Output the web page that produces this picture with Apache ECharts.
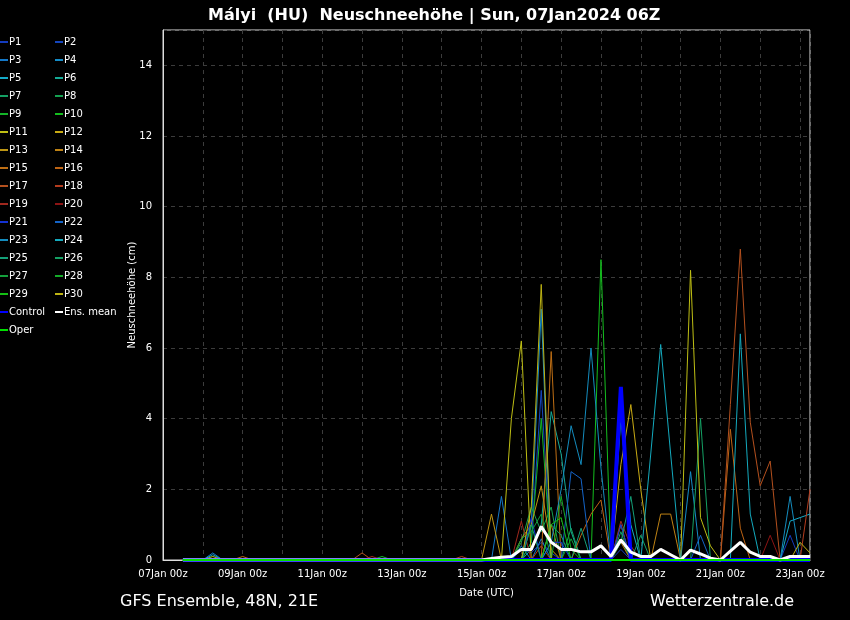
<!DOCTYPE html>
<html lang="de">
<head>
    <meta charset="UTF-8">
    <title>Mályi Neuschneehöhe</title>
    <script src="https://cdn.jsdelivr.net/npm/echarts@6/dist/echarts.min.js"></script>
    <style>
        html, body {margin: 0; padding: 0; background: #000;}
    </style>
</head>
<body>
<div id="chart" style="width: 850px;height:620px;"></div>
<script type="text/javascript">
    // forecast steps: 6h, starting 07Jan 12z (hour 12 after 07Jan 00z)
    var startHour = 12;
    var stepHours = 6;
    var tickLabels = ['07Jan 00z', '09Jan 00z', '11Jan 00z', '13Jan 00z', '15Jan 00z',
        '17Jan 00z', '19Jan 00z', '21Jan 00z', '23Jan 00z'];

    var P1 = [0,0,0,0,0,0,0,0,0,0,0,0,0,0,0,0,0,0,0,0,0,0,0,0,0,0,0,0,0,0,
        0,0,0,0,0.3,0.2,0.5,0.2,0,0,0,0,0,0,0.3,0,0,0,0,0,0,0,0,0,0,0,0,0,0,0,0,0.7,0,0];
    var P2 = [0,0,0,0,0,0,0,0,0,0,0,0,0,0,0,0,0,0,0,0,0,0,0,0,0,0,0,0,0,0,
        0,0,0,0,0,0.5,4.8,0,0,0,0,0,0,0,0,0,0,0,0,0,0,0,0,0,0,0,0,0,0,0,0,0,0,0];
    var P3 = [0,0,0,0.2,0,0,0,0,0,0,0,0,0,0,0,0,0,0,0,0,0,0,0,0,0,0,0,0,0,0,
        0,0,1.8,0,0.4,0,0.6,0,0,0,0,0,0,0,0,0,0,0,0,0,0,0,0,0,0,0,0,0,0,0,0,0,0,0];
    var P4 = [0,0,0,0,0,0,0,0,0,0,0,0,0,0,0,0,0,0,0,0,0,0,0,0,0,0,0,0,0,0,
        0,0,0,0,0,1.0,7.1,0,0,0,0,0,0,0,0,0,0,0,0,0,0,2.5,0,0,0,0,0,0,0,0,0,0,0,0];
    var P5 = [0,0,0,0.15,0,0,0,0,0,0,0,0,0,0,0,0,0,0,0,0,0,0,0,0,0,0,0,0,0,0,
        0,0,0,0,0,0,0,0,0,0,0,0,0,0,4.0,1.0,0,0,0,0,0,0,0,0,0,0,0,0,0,0,0,1.1,1.2,1.3];
    var P6 = [0,0,0,0,0,0,0,0,0,0,0,0,0,0,0,0,0,0,0,0,0,0,0,0,0,0,0,0,0,0,
        0,0,0,0,0,0.3,1.0,4.2,3.0,0.8,0,0,0,0,0,0,0,0,0,0,0,0,0,0,0,0,0,0,0,0,0,0,0,0];
    var P7 = [0,0,0,0,0,0,0,0,0,0,0,0,0,0,0,0,0,0,0,0,0,0,0,0,0,0,0,0,0,0,
        0,0,0,0,0,0,0,0,0,0.9,0,0,0,0,0,0,0,0,0,0,0,0,4.0,0,0,0,0,0,0,0,0,0,0,0];
    var P8 = [0,0,0,0,0,0,0,0,0,0,0,0,0,0,0,0,0,0,0,0,0,0,0,0,0,0,0,0,0,0,
        0,0,0,0,0.5,1.5,0.8,1.5,0,0,0,0,0,0,0.6,0,0,0,0,0,0,0,0,0,0,0,0,0,0,0,0,0,0,0];
    var P9 = [0,0,0,0,0,0,0,0,0,0,0,0,0,0,0,0,0,0,0,0,0.1,0,0,0,0,0,0,0,0,0,
        0,0,0,0,0,0.5,4.0,0,0,0,0,0,0,0,0,0,0,0,0,0,0,0,0,0,0,0,0,0,0,0,0,0,0,0];
    var P10 = [0,0,0,0,0,0,0,0,0,0,0,0,0,0,0,0,0,0,0,0,0,0,0,0,0,0,0,0,0,0,
        0,0,0,0,0,0,0,0,0,0,0,0,8.5,0,0,0,0,0,0,0,0,0,0,0,0,0,0,0,0,0,0,0,0,0];
    var P11 = [0,0,0,0.1,0,0,0,0,0,0,0,0,0,0,0,0,0,0,0,0,0,0,0,0,0,0,0,0,0,0,
        0,0,0,4.0,6.2,0,0,0,0,0,0,0,0,0,0,0,0,0,0,0,0,8.2,1.2,0.4,0,0,0,0,0,0,0,0,0,0];
    var P12 = [0,0,0,0,0,0,0,0,0,0,0,0,0,0,0,0,0,0,0,0,0,0,0,0,0,0,0,0,0,0,
        0,0,0,0,0,0,0,0,0,0,0,0,0,0,2.7,4.4,2.0,0,0,0,0,0,0,0,0,0,0,0,0,0,0,0,0,0];
    var P13 = [0,0,0,0,0,0,0,0,0,0,0,0,0,0,0,0,0,0,0,0,0,0,0,0,0,0,0,0,0,0,
        0,1.3,0,0,0.6,1.0,2.1,0.3,0,0,0,0,0,0,1.0,0,0,0,0,0,0,0,0,0,0,0,0,0,0,0,0,0,0,0];
    var P14 = [0,0,0,0,0,0,0,0,0,0,0,0,0,0,0,0,0,0,0,0,0,0,0,0,0,0,0,0,0,0,
        0,0,0,0,0,0,0,1.0,0,0,0,0,0,0,0.5,0,0,0,1.3,1.3,0,0,0,0,0,0,0,0,0,0,0,0,0,0];
    var P15 = [0,0,0,0,0,0,0,0,0,0,0,0,0,0,0,0,0,0,0,0,0,0,0,0,0,0,0,0,0,0,
        0,0,0,0,0,0,0,5.9,0,0,0,0,0,0,0,0,0,0,0,0,0,0,0,0,0,0,0,0,0,0,0,0,0,0];
    var P16 = [0,0,0,0,0,0,0.1,0,0,0,0,0,0,0,0,0,0,0,0,0,0,0,0,0,0,0,0,0,0,0,
        0,0,0,0,0,0,0,0,0,0,0.7,1.3,1.7,0,0,0,0,0,0,0,0,0,0,0,0,3.7,0.9,0,0,0,0,0,0,0];
    var P17 = [0,0,0,0,0,0,0,0,0,0,0,0,0,0,0,0,0,0,0.2,0,0,0,0,0,0,0,0,0,0,0,
        0,0,0,0,0,0,0,0,0,0,0,0,0,0,0,0,0,0,0,0,0,0,0,0,0,4.4,8.8,3.9,2.1,2.8,0,0,0,0];
    var P18 = [0,0,0,0,0,0,0,0,0,0,0,0,0,0,0,0,0,0,0,0,0,0,0,0,0,0,0,0,0.1,0,
        0,0,0,0,0,0,0.4,0,0,0,0,0,0,0,0,0,0,0,0,0,0,0,0,0,0,0,0,0,0,0,0,0,0,2.0];
    var P19 = [0,0,0,0,0,0,0,0,0,0,0,0,0,0,0,0,0,0,0,0.1,0,0,0,0,0,0,0,0,0,0,
        0,0,0,0,1.1,0,0,0,0,0,0,0,0,0,1.1,0.4,0,0,0,0,0,0,0,0,0,0,0,0,0,0,0,0,0,0];
    var P20 = [0,0,0,0,0,0,0,0,0,0,0,0,0,0,0,0,0,0,0,0,0,0,0,0,0,0,0,0,0,0,
        0,0,0,0,0,0,0,0,0,0,0,0,0,0,0,0,0,0,0,0,0,0,0,0,0,0,0,0,0,0.7,0,0,0,0];
    var P21 = [0,0,0,0,0,0,0,0,0,0,0,0,0,0,0,0,0,0,0,0,0,0,0,0,0,0,0,0,0,0,
        0,0,0,0,0,1.2,0,0.5,0.5,0,0,0,0,0,1.0,0,0,0,0,0,0,0,0,0,0,0,0,0,0,0,0,0,0,0];
    var P22 = [0,0,0,0,0,0,0,0,0,0,0,0,0,0,0,0,0,0,0,0,0,0,0,0,0,0,0,0,0,0,
        0,0,0,0,0,0,0,0,0,2.5,2.3,0,0,0,0,0,0,0,0,0,0,0,0.7,0,0,0,0,0,0,0,0,0,0,0];
    var P23 = [0,0,0,0,0,0,0,0,0,0,0,0,0,0,0,0,0,0,0,0,0,0,0,0,0,0,0,0,0,0,
        0,0,0,0,0,0,0,0.5,2.0,3.8,2.7,6.0,2.6,0,0,0,0,0,0,0,0,0,0,0,0,0,0,0,0,0,0,1.8,0,0];
    var P24 = [0,0,0,0,0,0,0,0,0,0,0,0,0,0,0,0,0,0,0,0,0,0,0,0,0,0,0,0,0,0,
        0,0,0,0,0,0,0,0,0,0,0,0,0,0,0,0,0,3.0,6.1,3.0,0,0,0,0,0,0,6.4,1.3,0,0,0,0,0,0];
    var P25 = [0,0,0,0,0,0,0,0,0,0,0,0,0,0,0,0,0,0,0,0,0,0,0,0,0,0,0,0,0,0,
        0,0,0,0,0,0,0,0,0,0,0.9,0,0,0,0.5,1.8,0,0,0,0,0,0,0,0,0,0,0,0,0,0,0,0,0,0];
    var P26 = [0,0,0,0,0,0,0,0,0,0,0,0,0,0,0,0,0,0,0,0,0,0,0,0,0,0,0,0,0,0,
        0,0,0,0,0,1.0,0,1.0,0.7,0,0,0,0,0,0.8,0,0.7,0,0,0,0,0,0,0,0,0,0,0,0,0,0,0,0,0];
    var P27 = [0,0,0,0,0,0,0,0,0,0,0,0,0,0,0,0,0,0,0,0,0,0,0,0,0,0,0,0,0,0,
        0,0,0,0,0.6,0.8,1.3,0,0,0.6,0,0,0,0,0,0,0,0,0,0,0,0,0,0,0,0,0,0,0,0,0,0,0,0];
    var P28 = [0,0,0,0,0,0,0,0,0,0,0,0,0,0,0,0,0,0,0,0,0,0,0,0,0,0,0,0,0,0,
        0,0,0,0,0,0,0,0,1.8,0.3,0,0,0,0,0,0,0,0,0,0,0,0,0,0,0,0,0,0,0,0,0,0,0,0];
    var P29 = [0,0,0,0,0,0,0,0,0,0,0,0,0,0,0,0,0,0,0,0,0,0,0,0,0,0,0,0,0,0,
        0,0,0,0,0,0,0,1.0,1.2,0,0,0,0,0,0,0,0,0,0,0,0,0,0,0,0,0,0,0,0,0,0,0,0,0];
    var P30 = [0,0,0,0,0,0,0,0,0,0,0,0,0,0,0,0,0,0,0,0,0,0,0,0,0,0,0,0,0,0,
        0,0,0,0,0,1.5,7.8,0,0,0,0,0,0,0,0,0,0,0,0,0,0,0,0,0,0,0,0,0,0,0,0,0,0.5,0.2];
    var control = [0,0,0,0,0,0,0,0,0,0,0,0,0,0,0,0,0,0,0,0,0,0,0,0,0,0,0,0,0,0,
        0,0,0,0,0,0,0,0,0,0,0,0,0,0,4.9,0,0,0,0,0,0,0,0,0,0,0,0,0,0,0,0,0,0,0];
    var ensMean = [0,0,0,0,0,0,0,0,0,0,0,0,0,0,0,0,0,0,0,0,0,0,0,0,0,0,0,0,0,0,
        0,0.04,0.08,0.1,0.3,0.3,0.95,0.5,0.3,0.3,0.23,0.23,0.4,0.1,0.57,0.22,0.1,0.1,0.3,0.15,
        0,0.28,0.17,0.05,0,0.25,0.5,0.22,0.1,0.1,0,0.1,0.1,0.1];
    var oper = [0,0,0,0,0,0,0,0,0,0,0,0,0,0,0,0,0,0,0,0,0,0,0,0,0,0,0,0,0,0,
        0,0,0,0,0,0,0,0,0,0,0,0,0,0,0,0,0,0,0,0,0,0,0,0,0,0,0,0,0,0,0,0,0,0];

    var members = [P1, P2, P3, P4, P5, P6, P7, P8, P9, P10, P11, P12, P13, P14, P15,
        P16, P17, P18, P19, P20, P21, P22, P23, P24, P25, P26, P27, P28, P29, P30];
    var memberColors = [
        '#143cbe', '#1446be', '#1478c8', '#148cc8', '#14aac8', '#14aa96', '#14a064', '#14a050',
        '#14b428', '#14be1e', '#bebe14', '#c8aa14', '#be9614', '#be8214', '#be6e14', '#be6414',
        '#b4501e', '#b43c1e', '#a0281e', '#8c1414', '#1432d2', '#1464c8', '#148cbe', '#14aabe',
        '#14a078', '#14a064', '#14a03c', '#14aa28', '#14be14', '#beb414'
    ];

    function withHours(values) {
        return values.map(function (v, i) { return [startHour + stepHours * i, v]; });
    }

    var series = [];
    members.forEach(function (m, k) {
        series.push({
            name: 'P' + (k + 1), type: 'line', symbol: 'none', z: 2,
            data: withHours(m),
            lineStyle: {width: 1, color: memberColors[k]},
            itemStyle: {color: memberColors[k]}
        });
    });
    series.push({
        name: 'Control', type: 'line', symbol: 'none', z: 3, data: withHours(control),
        lineStyle: {width: 4, color: '#0000ff'}, itemStyle: {color: '#0000ff'}
    });
    series.push({
        name: 'Ens. mean', type: 'line', symbol: 'none', z: 4, data: withHours(ensMean),
        lineStyle: {width: 3, color: '#ffffff'}, itemStyle: {color: '#ffffff'}
    });
    series.push({
        name: 'Oper', type: 'line', symbol: 'none', z: 5, data: withHours(oper),
        lineStyle: {width: 2, color: '#00e000'}, itemStyle: {color: '#00e000'}
    });

    var leftNames = [], rightNames = [];
    for (var k = 1; k <= 30; k++) {
        (k % 2 ? leftNames : rightNames).push('P' + k);
    }
    leftNames.push('Control', 'Oper');
    rightNames.push('Ens. mean');

    var legendBase = {
        orient: 'vertical', top: 36, padding: 0, itemGap: 6,
        itemWidth: 8, itemHeight: 2, icon: 'rect',
        textStyle: {color: '#fff', fontSize: 10, fontFamily: 'DejaVu Sans', lineHeight: 12, padding: [0, 0, 0, -4]},
        selectedMode: false
    };

    var chart = echarts.init(document.getElementById('chart'));
    var option = {
        backgroundColor: '#000',
        animation: false,
        title: [
            {
                text: 'Mályi  (HU)  Neuschneehöhe | Sun, 07Jan2024 06Z',
                left: 203, top: 3,
                textStyle: {color: '#fff', fontSize: 16, fontWeight: 'bold', fontFamily: 'DejaVu Sans'}
            },
            {
                text: 'GFS Ensemble, 48N, 21E', left: 115, top: 589,
                textStyle: {color: '#fff', fontSize: 16, fontWeight: 'normal', fontFamily: 'DejaVu Sans'}
            },
            {
                text: 'Wetterzentrale.de', left: 645, top: 589,
                textStyle: {color: '#fff', fontSize: 16, fontWeight: 'normal', fontFamily: 'DejaVu Sans'}
            }
        ],
        legend: [
            Object.assign({left: 0, data: leftNames}, legendBase),
            Object.assign({left: 55, data: rightNames}, legendBase)
        ],
        grid: {
            left: 163, right: 40, top: 30, bottom: 60,
            show: true, borderColor: '#ddd', borderWidth: 1
        },
        xAxis: {
            type: 'value', min: 0, max: 390, interval: 24,
            name: 'Date (UTC)', nameLocation: 'middle', nameGap: 28,
            nameTextStyle: {color: '#fff', fontSize: 10, fontFamily: 'DejaVu Sans'},
            axisLine: {lineStyle: {color: '#ddd'}},
            axisTick: {show: false},
            axisLabel: {
                color: '#fff', fontSize: 10, fontFamily: 'DejaVu Sans', margin: 9,
                showMaxLabel: false,
                formatter: function (v) { return v % 48 === 0 ? tickLabels[v / 48] : ''; }
            },
            splitLine: {show: true, lineStyle: {color: '#3c3c3c', type: [4, 4]}}
        },
        yAxis: {
            type: 'value', min: 0, max: 15, interval: 2,
            name: 'Neuschneehöhe (cm)', nameLocation: 'middle', nameGap: 26,
            nameMoveOverlap: false,
            nameTextStyle: {color: '#fff', fontSize: 10, fontFamily: 'DejaVu Sans'},
            axisLine: {show: true, lineStyle: {color: '#ddd'}},
            axisTick: {show: false},
            axisLabel: {
                color: '#fff', fontSize: 10, fontFamily: 'DejaVu Sans', margin: 11,
                showMaxLabel: false,
                formatter: function (v) { return v % 2 === 0 ? String(v) : ''; }
            },
            splitLine: {show: true, lineStyle: {color: '#3c3c3c', type: [4, 4]}}
        },
        series: series
    };
    chart.setOption(option);
</script>
</body>
</html>
